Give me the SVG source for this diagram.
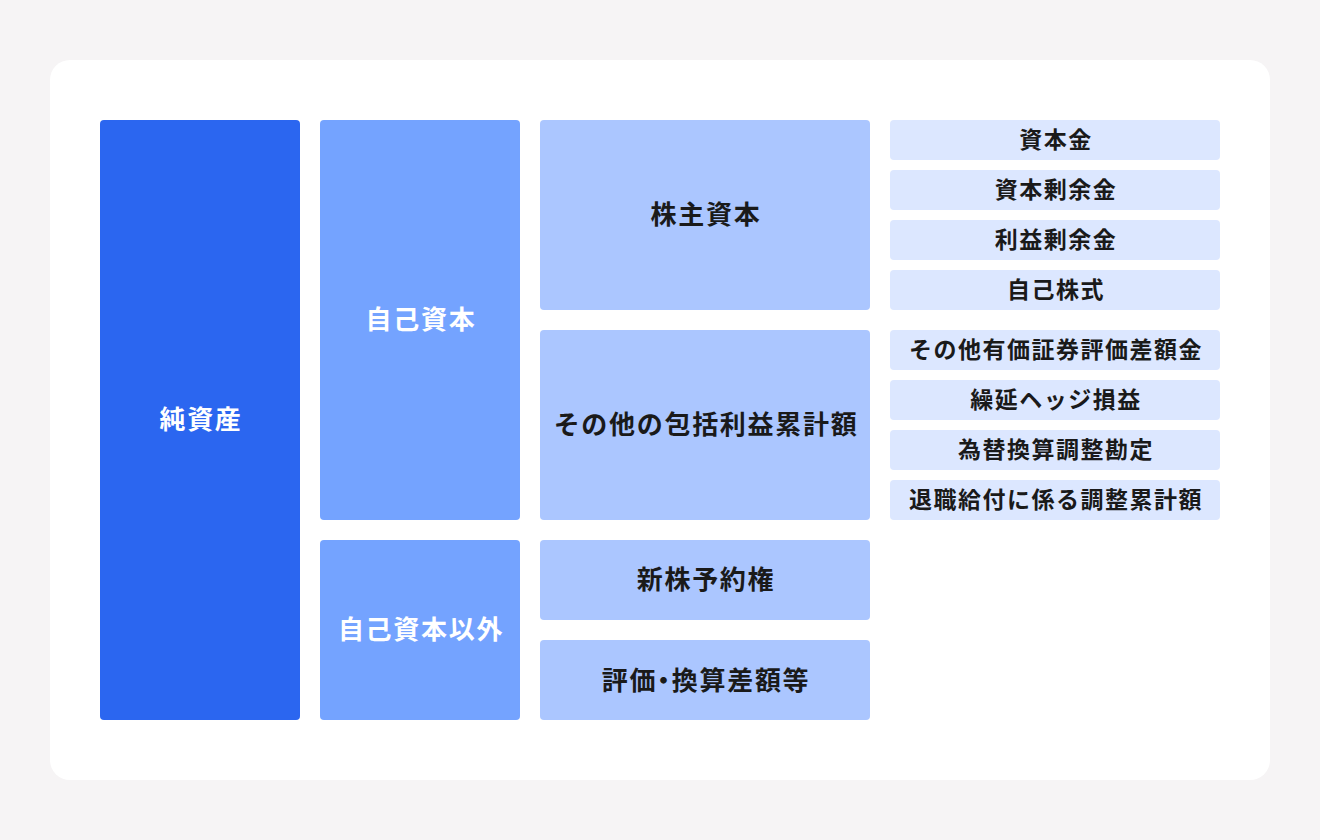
<svg xmlns="http://www.w3.org/2000/svg" width="1320" height="840" viewBox="0 0 1320 840">
<style>
text{font-family:"Noto Sans CJK JP","Noto Sans CJK SC",sans-serif;font-weight:700;text-anchor:middle}
.l{font-size:26px;letter-spacing:1.7px}
.s{font-size:23px;letter-spacing:1.5px;fill:#1a1a1a}
.h{font-feature-settings:"halt"}
.w{fill:#ffffff}
.d{fill:#1a1a1a}
.c1{fill:#2b66f0}
.c2{fill:#74a3ff}
.c3{fill:#abc6ff}
.c4{fill:#dce7ff}
</style>
<rect width="1320" height="840" fill="#f6f4f5"/>
<rect x="50" y="60" width="1220" height="720" rx="20" fill="#ffffff"/>
<g id="connectors"></g>
<g id="n-junshisan"><rect class="c1" x="100" y="120" width="200" height="600" rx="4"/><text class="l w" x="201" y="429">純資産</text></g>
<g id="n-jikoshihon"><rect class="c2" x="320" y="120" width="200" height="400" rx="4"/><text class="l w" x="421" y="329">自己資本</text></g>
<g id="n-jikoigai"><rect class="c2" x="320" y="540" width="200" height="180" rx="4"/><text class="l w" x="421" y="639">自己資本以外</text></g>
<g id="n-kabunushi"><rect class="c3" x="540" y="120" width="330" height="190" rx="4"/><text class="l d" x="706" y="224">株主資本</text></g>
<g id="n-sonota"><rect class="c3" x="540" y="330" width="330" height="190" rx="4"/><text class="l d" x="706" y="434">その他の包括利益累計額</text></g>
<g id="n-shinkabu"><rect class="c3" x="540" y="540" width="330" height="80" rx="4"/><text class="l d" x="706" y="589">新株予約権</text></g>
<g id="n-hyoka"><rect class="c3" x="540" y="640" width="330" height="80" rx="4"/><text class="l d h" x="706" y="690">評価・換算差額等</text></g>
<g id="n-r1"><rect class="c4" x="890" y="120" width="330" height="40" rx="4"/><text class="s" x="1056" y="148">資本金</text></g>
<g id="n-r2"><rect class="c4" x="890" y="170" width="330" height="40" rx="4"/><text class="s" x="1056" y="198">資本剰余金</text></g>
<g id="n-r3"><rect class="c4" x="890" y="220" width="330" height="40" rx="4"/><text class="s" x="1056" y="248">利益剰余金</text></g>
<g id="n-r4"><rect class="c4" x="890" y="270" width="330" height="40" rx="4"/><text class="s" x="1056" y="298">自己株式</text></g>
<g id="n-r5"><rect class="c4" x="890" y="330" width="330" height="40" rx="4"/><text class="s" x="1056" y="358">その他有価証券評価差額金</text></g>
<g id="n-r6"><rect class="c4" x="890" y="380" width="330" height="40" rx="4"/><text class="s" x="1056" y="408">繰延ヘッジ損益</text></g>
<g id="n-r7"><rect class="c4" x="890" y="430" width="330" height="40" rx="4"/><text class="s" x="1056" y="458">為替換算調整勘定</text></g>
<g id="n-r8"><rect class="c4" x="890" y="480" width="330" height="40" rx="4"/><text class="s" x="1056" y="508">退職給付に係る調整累計額</text></g>
</svg>
